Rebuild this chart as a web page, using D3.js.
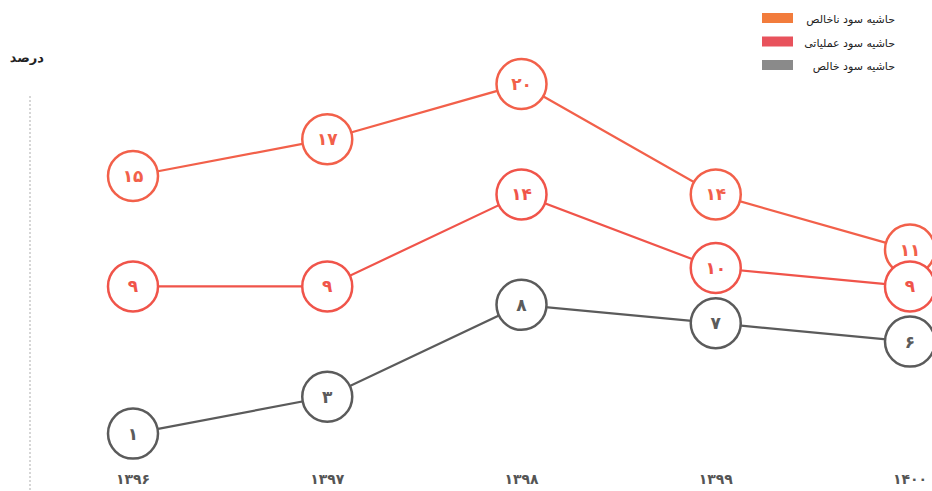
<!DOCTYPE html>
<html>
<head>
<meta charset="utf-8">
<script src="https://cdn.jsdelivr.net/npm/d3@7"></script>
<style>
  body { margin: 0; background: #fff; }
  svg { display: block; font-family: "DejaVu Sans", sans-serif; }
</style>
</head>
<body>
<svg id="chart" width="932" height="491"></svg>
<script>
"use strict";

// Années (calendrier persan)
var years = ["۱۳۹۶", "۱۳۹۷", "۱۳۹۸", "۱۳۹۹", "۱۴۰۰"];

// Séries (pourcentages)
var grossMargin = [15, 17, 20, 14, 11];
var operatingMargin = [9, 9, 14, 10, 9];
var netMargin = [1, 3, 8, 7, 6];

var seriesNames = ["حاشیه سود ناخالص", "حاشیه سود عملیاتی", "حاشیه سود خالص"];
var seriesColors = ["#f2604a", "#f0544a", "#5b5b5b"];
var legendColors = ["#f27c3c", "#e8525c", "#8a8a8a"];

var yLabel = "درصد";

function toFa(n) {
  return String(n).replace(/[0-9]/g, function (c) { return "۰۱۲۳۴۵۶۷۸۹"[+c]; });
}

var svg = d3.select("#chart");

var x = d3.scalePoint()
  .domain(years)
  .range([133, 910]);

var y = d3.scaleLinear()
  .domain([0, 20])
  .range([452, 84]);

// axe vertical pointillé
svg.append("line")
  .attr("x1", 30).attr("x2", 30)
  .attr("y1", 96).attr("y2", 490)
  .attr("stroke", "#bbb")
  .attr("stroke-width", 1.2)
  .attr("stroke-dasharray", "2,2");

svg.append("text")
  .attr("x", 44)
  .attr("y", 62)
  .attr("text-anchor", "end")
  .attr("font-size", 13)
  .attr("font-weight", "bold")
  .attr("fill", "#222")
  .text(yLabel);

// étiquettes des années
svg.selectAll("text.year")
  .data(years)
  .enter()
  .append("text")
  .attr("class", "year")
  .attr("x", function (d) { return x(d); })
  .attr("y", 484)
  .attr("text-anchor", "middle")
  .attr("font-size", 14)
  .attr("font-weight", "bold")
  .attr("fill", "#555")
  .text(function (d) { return d; });

var series = [grossMargin, operatingMargin, netMargin].map(function (vals, i) {
  return {
    name: seriesNames[i],
    color: seriesColors[i],
    values: vals.map(function (v, j) { return { year: years[j], value: v }; })
  };
});

var line = d3.line()
  .x(function (d) { return x(d.year); })
  .y(function (d) { return y(d.value); });

var groups = svg.selectAll("g.series")
  .data(series)
  .enter()
  .append("g")
  .attr("class", "series");

groups.append("path")
  .attr("d", function (d) { return line(d.values); })
  .attr("fill", "none")
  .attr("stroke", function (d) { return d.color; })
  .attr("stroke-width", 2.2);

groups.each(function (s) {
  var g = d3.select(this);
  var pts = g.selectAll("g.pt")
    .data(s.values)
    .enter()
    .append("g")
    .attr("class", "pt")
    .attr("transform", function (d) { return "translate(" + x(d.year) + "," + y(d.value) + ")"; });

  pts.append("circle")
    .attr("r", 25)
    .attr("fill", "#fff")
    .attr("stroke", s.color)
    .attr("stroke-width", 2.5);

  pts.append("text")
    .attr("text-anchor", "middle")
    .attr("dy", "0.35em")
    .attr("font-size", 17)
    .attr("font-weight", "bold")
    .attr("fill", s.color)
    .text(function (d) { return toFa(d.value); });
});

// légende
var legend = svg.append("g")
  .attr("class", "legend");

legend.selectAll("rect")
  .data(seriesNames)
  .enter()
  .append("rect")
  .attr("x", 762)
  .attr("y", function (d, i) { return 13 + 23.5 * i; })
  .attr("width", 31)
  .attr("height", 10)
  .attr("fill", function (d, i) { return legendColors[i]; });

legend.selectAll("text")
  .data(seriesNames)
  .enter()
  .append("text")
  .attr("x", 895)
  .attr("y", function (d, i) { return 23 + 23.5 * i; })
  .attr("text-anchor", "end")
  .attr("font-size", 11)
  .attr("fill", "#222")
  .text(function (d) { return d; });
</script>
</body>
</html>
